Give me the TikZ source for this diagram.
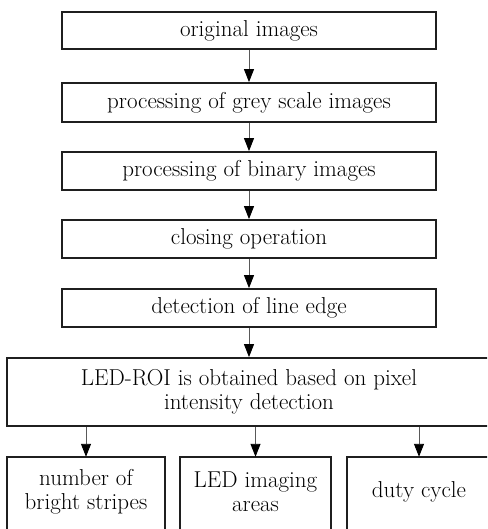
\documentclass[tikz,border=0pt]{standalone}
\usetikzlibrary{arrows.meta}
\begin{document}
\begin{tikzpicture}[x=1pt,y=-1pt,
  box/.style={draw=black!88,line width=1.8pt,rectangle,align=center,inner sep=0pt,
    font=\fontsize{23}{24}\selectfont},
  openbox/.style={rectangle,align=center,inner sep=0pt,font=\fontsize{23}{24}\selectfont},
  flow/.style={draw=black!65,line width=0.9pt,-{Triangle[width=10pt,length=13pt,black]}},
  edge/.style={draw=black!88,line width=1.8pt}]
\useasboundingbox (0,0) rectangle (487,529);
\clip (0,0) rectangle (487,529);
\node[box,minimum width=374pt,minimum height=37pt] (n1) at (249,30.5) {original images};
\node[box,minimum width=374pt,minimum height=39pt] (n2) at (249,102.5) {processing of grey scale images};
\node[box,minimum width=374pt,minimum height=38pt] (n3) at (249,171) {processing of binary images};
\node[box,minimum width=374pt,minimum height=38pt] (n4) at (249,239) {closing operation};
\node[box,minimum width=374pt,minimum height=38pt] (n5) at (249,308) {detection of line edge};
\node[box,minimum width=484pt,minimum height=68pt] (n6) at (249,392) {LED-ROI is obtained based on pixel\\intensity detection};
\node[openbox,minimum width=158pt,minimum height=70pt] (b1) at (86,492) {number of\\bright stripes};
\node[openbox,minimum width=151pt,minimum height=70pt] (b2) at (255.5,492) {LED imaging\\areas};
\node[openbox,minimum width=144pt,minimum height=70pt] (b3) at (419,492) {duty cycle};
\foreach \b in {b1,b2,b3}{
  \draw[edge] ([yshift=-12pt]\b.south west) -- (\b.north west) -- (\b.north east) -- ([yshift=-12pt]\b.south east);
}
\draw[flow] (n1) -- (n2);
\draw[flow] (n2) -- (n3);
\draw[flow] (n3) -- (n4);
\draw[flow] (n4) -- (n5);
\draw[flow] (n5) -- (n6);
\draw[flow] (n6.south -| b1.north) -- (b1.north);
\draw[flow] (n6.south -| b2.north) -- (b2.north);
\draw[flow] (n6.south -| b3.north) -- (b3.north);
\end{tikzpicture}
\end{document}
